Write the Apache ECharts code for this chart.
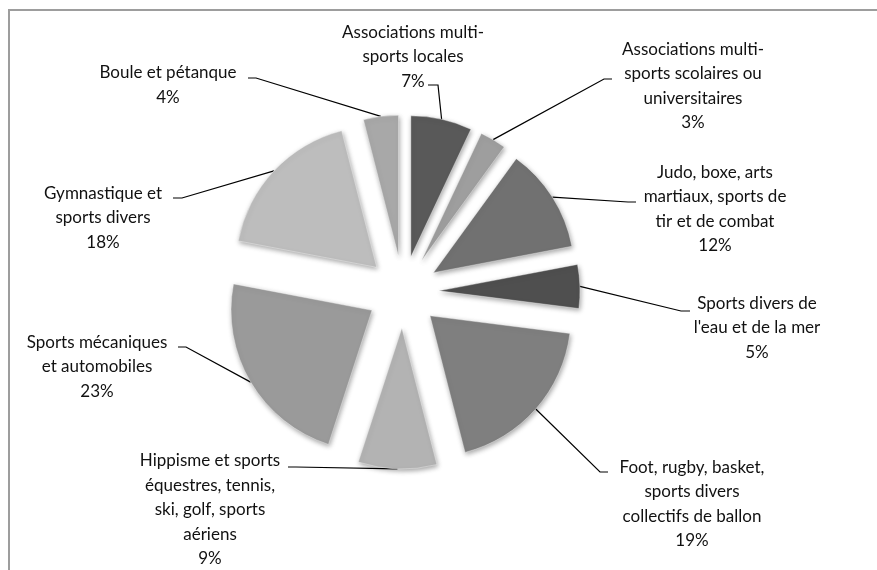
<!DOCTYPE html>
<html>
<head>
<meta charset="utf-8">
<style>
  html, body { margin: 0; padding: 0; background: #fff; }
  #chart { width: 877px; height: 570px; }
</style>
<script src="https://cdn.jsdelivr.net/npm/echarts@6/dist/echarts.min.js"></script>
</head>
<body>
<div id="chart"></div>
<script>
// categories (label text wrapped as in the original) and shares in %
const categories = [
  'Associations multi-\nsports locales',
  'Associations multi-\nsports scolaires ou\nuniversitaires',
  'Judo, boxe, arts\nmartiaux, sports de\ntir et de combat',
  'Sports divers de\nl\'eau et de la mer',
  'Foot, rugby, basket,\nsports divers\ncollectifs de ballon',
  'Hippisme et sports\néquestres, tennis,\nski, golf, sports\naériens',
  'Sports mécaniques\net automobiles',
  'Gymnastique et\nsports divers',
  'Boule et pétanque'
]
const shares = [7, 3, 12, 5, 19, 9, 23, 18, 4]
const greys = ['#595959', '#9e9e9e', '#717171', '#4f4f4f', '#7f7f7f', '#b3b3b3', '#9a9a9a', '#bdbdbd', '#a8a8a8']

// label block placement: [centerX, centerY, leaderX, leaderY, tailX]
const labelSpots = [
  [413, 57, 438, 85, 428],
  [693, 86, 604, 79, 612],
  [715, 209, 628, 202, 636],
  [757, 328, 681, 311, 690],
  [692, 504, 600, 472, 608],
  [210, 510, 296, 467, 288],
  [97, 367, 186, 347, 178],
  [103, 218, 182, 198, 173],
  [168, 85, 256, 78, 248]
]

const pieCenter = [403, 292]
const explode = 36
const total = shares.reduce((a, b) => a + b, 0)

// one pie per slice so each can be pulled out along its own bisector
let acc = 0
const series = shares.map((share, i) => {
  const mid = (acc + share / 2) / total * Math.PI * 2
  acc += share
  return {
    type: 'pie',
    center: [pieCenter[0] + explode * Math.sin(mid), pieCenter[1] - explode * Math.cos(mid)],
    radius: 141,
    startAngle: 90,
    percentPrecision: 0,
    avoidLabelOverlap: false,
    silent: true,
    data: shares.map((v, j) => ({
      name: categories[j],
      value: v,
      itemStyle: j === i
        ? { color: greys[j] }
        : { color: 'rgba(0,0,0,0)', borderWidth: 0, shadowBlur: 0, shadowColor: 'rgba(0,0,0,0)' },
      label: { show: j === i },
      labelLine: { show: j === i }
    })),
    itemStyle: {
      borderColor: 'rgba(255,255,255,0.35)',
      borderWidth: 1,
      shadowBlur: 5,
      shadowOffsetX: 1,
      shadowOffsetY: 2,
      shadowColor: 'rgba(0,0,0,0.35)'
    },
    label: {
      formatter: '{b}\n{d}%',
      color: '#111',
      fontFamily: 'Lato',
      fontSize: 17,
      lineHeight: 24.5,
      align: 'center'
    },
    labelLine: {
      length: 20,
      length2: 10,
      lineStyle: { color: '#000', width: 1.2 }
    },
    labelLayout: params => {
      const s = labelSpots[params.dataIndex]
      const start = params.labelLinePoints ? params.labelLinePoints[0] : [s[2], s[3]]
      return {
        x: s[0],
        y: s[1],
        align: 'center',
        verticalAlign: 'middle',
        labelLinePoints: [start, [s[2], s[3]], [s[4], s[3]]]
      }
    },
    emphasis: { disabled: true }
  }
})

const chart = echarts.init(document.getElementById('chart'))

chart.setOption({
  animation: false,
  backgroundColor: '#fff',
  graphic: [{
    type: 'rect',
    shape: { x: 9, y: 10, width: 1000, height: 1000 },
    style: { fill: 'none', stroke: '#9d9d9d', lineWidth: 2 },
    silent: true
  }],
  series: series
})
</script>
</body>
</html>
